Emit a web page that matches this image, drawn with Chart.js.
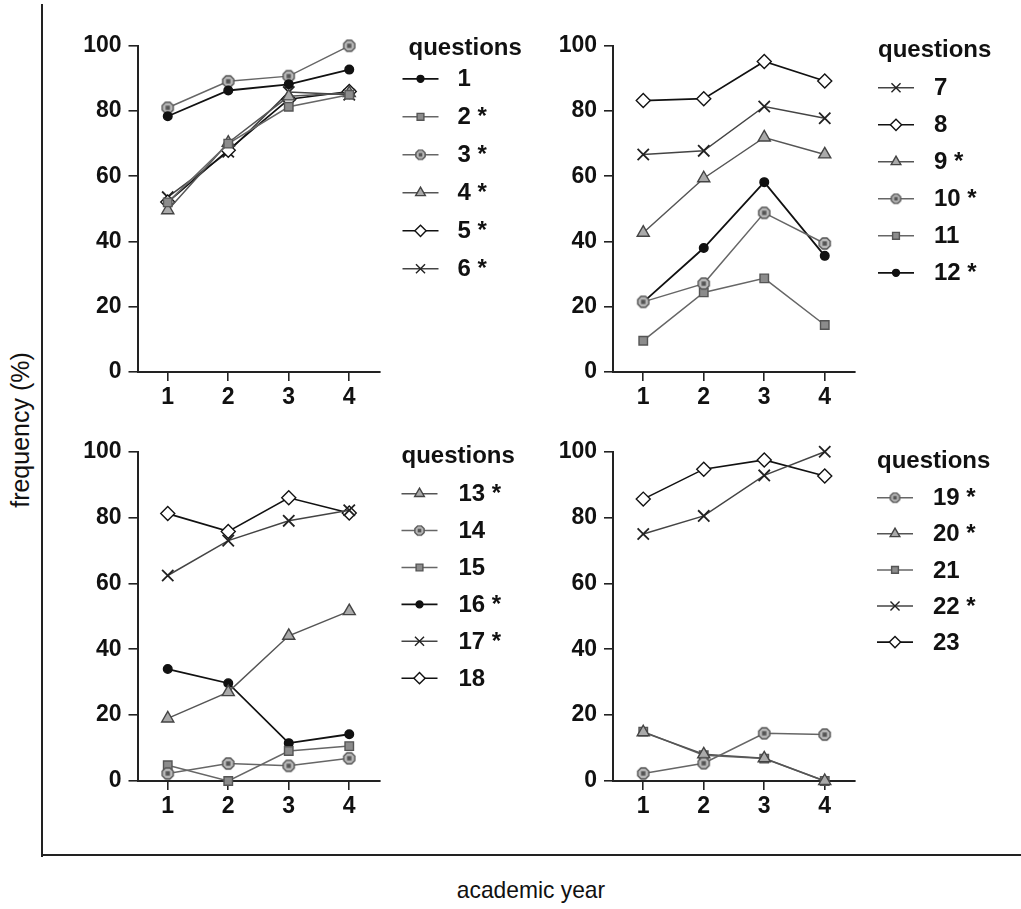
<!DOCTYPE html>
<html>
<head>
<meta charset="utf-8">
<script src="https://cdn.jsdelivr.net/npm/chart.js@4.4.0/dist/chart.umd.min.js"></script>
<style>
  body { margin: 0; background: #fff; }
  #page { position: relative; width: 1021px; height: 909px; overflow: hidden; font-family: "Liberation Sans", Arial, sans-serif; }
  canvas { position: absolute; }
  .frame-left { position: absolute; left: 41px; top: 4px; width: 2px; height: 853px; background: #222; }
  .frame-bottom { position: absolute; left: 41px; top: 854px; width: 980px; height: 2px; background: #222; }
  .ylab { position: absolute; left: 20px; top: 430px; transform: translate(-50%, -50%) rotate(-90deg); font-size: 25px; color: #111; white-space: nowrap; }
  .xlab { position: absolute; left: 531px; top: 890px; transform: translate(-50%, -50%) scaleX(0.95); font-size: 24px; color: #111; white-space: nowrap; }
</style>
</head>
<body>
<div id="page">
  <div class="frame-left"></div>
  <div class="frame-bottom"></div>
  <div class="ylab">frequency (%)</div>
  <div class="xlab">academic year</div>
  <canvas id="p1" width="480" height="400" style="left:60px;top:25px"></canvas>
  <canvas id="p2" width="485" height="400" style="left:536px;top:25px"></canvas>
  <canvas id="p3" width="480" height="400" style="left:60px;top:430px"></canvas>
  <canvas id="p4" width="485" height="400" style="left:536px;top:430px"></canvas>
</div>
<script>
// academic years
const years = ['1', '2', '3', '4'];
const yTicks = [0, 20, 40, 60, 80, 100];

// panel 1
const q1 = [78.4, 86.3, 88.2, 92.7];
const q2 = [52.0, 70.0, 81.3, 85.0];
const q3 = [81.0, 89.1, 90.7, 100];
const q4 = [49.6, 70.3, 84.5, 85.5];
const q5 = [52.1, 68.0, 83.6, 86.0];
const q6 = [53.6, 67.5, 85.8, 85.0];

// panel 2
const q7 = [66.7, 67.8, 81.4, 77.8];
const q8 = [83.2, 83.8, 95.2, 89.2];
const q9 = [42.7, 59.4, 71.9, 66.7];
const q10 = [21.5, 27.1, 48.8, 39.4];
const q11 = [9.6, 24.4, 28.7, 14.4];
const q12 = [21.4, 38.0, 58.2, 35.6];

// panel 3
const q13 = [19.0, 27.0, 44.1, 51.6];
const q14 = [2.3, 5.3, 4.6, 6.9];
const q15 = [4.8, 0, 9.1, 10.6];
const q16 = [34.0, 29.7, 11.5, 14.2];
const q17 = [62.4, 73.0, 79.0, 82.2];
const q18 = [81.2, 75.8, 86.0, 81.4];

// panel 4
const q19 = [2.3, 5.4, 14.5, 14.1];
const q20 = [14.8, 8.1, 6.9, 0];
const q21 = [15.0, 7.8, 6.8, 0];
const q22 = [75.0, 80.5, 92.8, 100];
const q23 = [85.6, 94.7, 97.5, 92.6];

// hexagon-ish marker with dark centre
function makeHexMarker(r) {
    const s = Math.ceil(r * 2 + 3);
    const c = document.createElement('canvas');
    c.width = s;
    c.height = s;
    const ctx = c.getContext('2d');
    const m = s / 2;
    ctx.beginPath();
    for (let i = 0; i < 8; i++) {
        const a = Math.PI / 8 + i * Math.PI / 4;
        const px = m + r * Math.cos(a), py = m + r * Math.sin(a);
        if (i === 0) ctx.moveTo(px, py); else ctx.lineTo(px, py);
    }
    ctx.closePath();
    ctx.fillStyle = '#b8b8b8';
    ctx.fill();
    ctx.lineWidth = 1.4;
    ctx.strokeStyle = '#555';
    ctx.stroke();
    ctx.fillStyle = '#555';
    const d = r * 0.36;
    ctx.fillRect(m - d, m - d, 2 * d, 2 * d);
    return c;
}
const hexMarker = makeHexMarker(6);
const hexSmall = makeHexMarker(5);

const markers = {
    dot: { pointStyle: 'circle', radius: 4.3, bg: '#111', border: '#111', line: '#111', lw: 1.8 },
    square: { pointStyle: 'rect', radius: 6, bg: '#8c8c8c', border: '#555', line: '#666', lw: 1.5 },
    hex: { pointStyle: hexMarker, small: hexSmall, radius: 6, bg: '#b8b8b8', border: '#555', line: '#666', lw: 1.5 },
    tri: { pointStyle: 'triangle', radius: 7, bg: '#aaa', border: '#444', line: '#555', lw: 1.5 },
    diamond: { pointStyle: 'rectRot', radius: 7, bg: '#fff', border: '#111', line: '#111', lw: 1.6 },
    cross: { pointStyle: 'crossRot', radius: 8, bg: '#222', border: '#222', line: '#444', lw: 1.5 }
};

function series(label, values, kind) {
    const m = markers[kind];
    return {
        label: label,
        data: values,
        borderColor: m.line,
        borderWidth: m.lw,
        pointStyle: m.pointStyle,
        pointRadius: m.radius,
        pointHoverRadius: m.radius,
        pointBackgroundColor: m.bg,
        pointBorderColor: m.border,
        pointBorderWidth: kind === 'cross' ? 1.8 : 1.4,
        tension: 0,
        clip: false,
        marker: m
    };
}

// draws the "questions" legend to the right of the plot
const questionsLegend = {
    id: 'questionsLegend',
    afterDraw(chart, args, opts) {
        const ctx = chart.ctx;
        const area = chart.chartArea;
        ctx.save();
        ctx.fillStyle = '#111';
        ctx.font = 'bold 24px "Liberation Sans", Arial, sans-serif';
        ctx.textBaseline = 'middle';
        ctx.textAlign = 'left';
        ctx.fillText('questions', area.right + opts.titleX, area.top + opts.titleY);
        chart.data.datasets.forEach(function(ds, i) {
            const y = area.top + opts.rowY + i * opts.rowGap;
            const m = ds.marker;
            const x0 = area.right + opts.lineX;
            const x1 = x0 + 36;
            ctx.beginPath();
            ctx.moveTo(x0, y);
            ctx.lineTo(x1, y);
            ctx.strokeStyle = m.line;
            ctx.lineWidth = m.lw;
            ctx.stroke();
            ctx.fillStyle = m.bg;
            ctx.strokeStyle = m.border;
            ctx.lineWidth = 1.4;
            Chart.helpers.drawPoint(ctx, {
                pointStyle: m.small || m.pointStyle,
                radius: m.radius * 0.8,
                rotation: 0,
                borderWidth: 1.4
            }, (x0 + x1) / 2, y);
            ctx.fillStyle = '#111';
            ctx.fillText(ds.label, area.right + opts.labelX, y + 1);
        });
        ctx.restore();
    }
};

function makePanel(id, box, area, datasets, legend) {
    const tickFont = { family: '"Liberation Sans", Arial, sans-serif', size: 23, weight: 'bold' };
    return new Chart(document.getElementById(id), {
        type: 'line',
        data: { labels: years, datasets: datasets },
        plugins: [questionsLegend],
        options: {
            responsive: false,
            animation: false,
            events: [],
            layout: {
                padding: {
                    left: 0,
                    top: area.t - box.top,
                    right: box.left + box.w - area.r,
                    bottom: box.top + box.h - area.b - 40
                }
            },
            plugins: {
                legend: { display: false },
                tooltip: { enabled: false },
                questionsLegend: legend
            },
            scales: {
                x: {
                    type: 'category',
                    offset: true,
                    afterFit: function(scale) { scale.height = 40; },
                    grid: { display: true, drawOnChartArea: false, offset: false, tickLength: 9, color: '#222', lineWidth: 1.6 },
                    border: { display: true, color: '#222', width: 2 },
                    ticks: { color: '#111', font: tickFont, padding: 3, maxRotation: 0 }
                },
                y: {
                    min: 0,
                    max: 100,
                    afterFit: function(scale) { scale.width = area.l - box.left; },
                    afterBuildTicks: function(scale) { scale.ticks = yTicks.map(v => ({ value: v })); },
                    grid: { display: true, drawOnChartArea: false, tickLength: 9, color: '#222', lineWidth: 1.6 },
                    border: { display: true, color: '#222', width: 2 },
                    ticks: { color: '#111', font: tickFont, padding: 7 }
                }
            }
        }
    });
}

makePanel('p1', { left: 60, top: 25, w: 480, h: 400 }, { l: 137.5, t: 42, r: 379.5, b: 372 }, [
    series('1', q1, 'dot'),
    series('2 *', q2, 'square'),
    series('3 *', q3, 'hex'),
    series('4 *', q4, 'tri'),
    series('5 *', q5, 'diamond'),
    series('6 *', q6, 'cross')
], { titleX: 29, titleY: 3, rowY: 33, rowGap: 38, lineX: 23, labelX: 78 });

makePanel('p2', { left: 536, top: 25, w: 485, h: 400 }, { l: 613, t: 42, r: 855, b: 372 }, [
    series('7', q7, 'cross'),
    series('8', q8, 'diamond'),
    series('9 *', q9, 'tri'),
    series('10 *', q10, 'hex'),
    series('11', q11, 'square'),
    series('12 *', q12, 'dot')
], { titleX: 23, titleY: 5, rowY: 42, rowGap: 37, lineX: 23, labelX: 79 });

makePanel('p3', { left: 60, top: 430, w: 480, h: 400 }, { l: 137.5, t: 451.7, r: 379.5, b: 781 }, [
    series('13 *', q13, 'tri'),
    series('14', q14, 'hex'),
    series('15', q15, 'square'),
    series('16 *', q16, 'dot'),
    series('17 *', q17, 'cross'),
    series('18', q18, 'diamond')
], { titleX: 22, titleY: 5, rowY: 42, rowGap: 36.9, lineX: 22, labelX: 79 });

makePanel('p4', { left: 536, top: 430, w: 485, h: 400 }, { l: 613, t: 451.7, r: 855, b: 781 }, [
    series('19 *', q19, 'hex'),
    series('20 *', q20, 'tri'),
    series('21', q21, 'square'),
    series('22 *', q22, 'cross'),
    series('23', q23, 'diamond')
], { titleX: 22, titleY: 10, rowY: 46, rowGap: 36.1, lineX: 22, labelX: 78 });
</script>
</body>
</html>
